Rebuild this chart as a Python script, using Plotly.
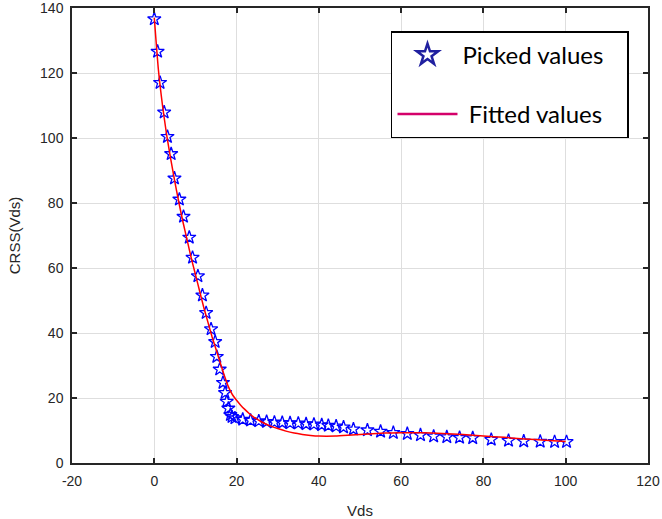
import plotly.graph_objects as go

# Picked values (stars)
picked_vds = [0.0, 0.8, 1.4, 2.4, 3.2, 4.1, 4.9, 6.1, 7.1, 8.5, 9.3, 10.6, 11.7, 12.6, 13.8,
              14.8, 15.2, 15.9, 16.7, 17.2, 17.6, 18.0, 18.5, 18.9,
              19.6, 21.5, 23.4, 25.4, 27.3, 29.2, 31.1, 33.0, 35.0, 36.9, 38.8, 40.7,
              42.3, 44.2, 46.0, 48.4, 51.8, 55.0, 58.1, 61.5, 64.7, 67.9, 71.1, 74.2,
              77.4, 81.9, 86.1, 89.8, 93.8, 97.3, 100.2]
picked_crss = [136.6, 126.6, 117.0, 107.9, 100.4, 95.1, 87.6, 81.1, 75.8, 69.4, 63.2, 57.5, 51.6, 46.2, 41.2,
               37.3, 32.7, 28.8, 24.7, 21.6, 18.9, 16.8, 14.8, 14.2,
               13.8, 13.4, 13.1, 12.9, 12.7, 12.5, 12.4, 12.3, 12.2, 12.0, 11.9, 11.7,
               11.5, 11.3, 11.0, 10.4, 10.1, 9.7, 9.3, 9.0, 8.6, 8.2, 8.0, 7.8,
               7.7, 7.2, 6.9, 6.7, 6.6, 6.5, 6.5]

# Fitted values (red curve)
fit_vds = [0, 1, 2, 3, 4, 5, 6, 7, 8, 9, 10, 11, 12, 13, 14, 15, 16, 17, 18, 19, 20,
           21, 22, 23, 24, 26, 28, 30, 32, 34, 36, 38, 40, 44, 48, 52, 56, 60, 65, 70,
           75, 80, 85, 90, 95, 100]
fit_crss = [137, 121, 110, 101, 93.5, 86.5, 80, 74, 68.5, 63, 58, 53, 48, 43.5, 39, 35, 31, 27,
            23.5, 21, 19.3, 17.8, 16.5, 15.3, 14.3, 12.7, 11.5, 10.6, 9.8, 9.2, 8.8, 8.5, 8.3,
            8.3, 8.6, 8.9, 9.2, 9.3, 9.3, 9.1, 8.8, 8.3, 7.9, 7.4, 7.0, 6.6]

x_ticks = [-20, 0, 20, 40, 60, 80, 100, 120]
y_ticks = [0, 20, 40, 60, 80, 100, 120, 140]

fig = go.Figure()
fig.add_trace(go.Scatter(x=picked_vds, y=picked_crss, mode="markers",
                         marker=dict(symbol="star-open", size=10, color="#0000ff",
                                     line=dict(width=1.3, color="#0000ff")),
                         showlegend=False))
fig.add_trace(go.Scatter(x=fit_vds, y=fit_crss, mode="lines",
                         line=dict(color="#ff0000", width=1.5, shape="spline", smoothing=0.5),
                         showlegend=False))
# legend entries
fig.add_trace(go.Scatter(x=[None], y=[None], mode="markers", name="Picked values\u00a0\u00a0\u00a0",
                         legendgroup="a",
                         marker=dict(symbol="star-open", size=16, color="#2020a0",
                                     line=dict(width=2.5, color="#2020a0"))))
fig.add_trace(go.Scatter(x=[None], y=[None], mode="lines", name="\u00a0Fitted values\u00a0\u00a0\u00a0",
                         legendgroup="b",
                         line=dict(color="#d4006a", width=2.5)))

axis_common = dict(showline=True, linecolor="#262626", linewidth=1.5, mirror="ticks",
                   ticks="inside", ticklen=5, tickwidth=1.5, tickcolor="#262626",
                   showgrid=True, gridcolor="#dedede", gridwidth=1, zeroline=False,
                   automargin=False, ticklabeloverflow="allow", ticklabelstandoff=4,
                   tickfont=dict(family="Liberation Sans", size=14, color="#262626"))

fig.update_xaxes(range=[-20, 120], tickvals=x_ticks, ticktext=[str(v) for v in x_ticks],
                 title=dict(text="Vds", font=dict(family="Liberation Sans", size=15, color="#262626"),
                            standoff=20),
                 **axis_common)
fig.update_yaxes(range=[0, 140], tickvals=y_ticks, ticktext=[str(v) for v in y_ticks],
                 title=dict(text="CRSS(Vds)", font=dict(family="Liberation Sans", size=15, color="#262626"),
                            standoff=16),
                 **axis_common)

fig.update_layout(
    width=662, height=519,
    margin=dict(l=72, r=14, t=8, b=56),
    plot_bgcolor="white", paper_bgcolor="white",
    legend=dict(x=0.967, y=0.949, xanchor="right", yanchor="top",
                bordercolor="#000000", borderwidth=1.5, bgcolor="white",
                font=dict(family="Lato", size=24, color="#000000"),
                itemwidth=60, tracegroupgap=25),
)

fig.write_html("out.html", config={"displayModeBar": False},
               post_script="document.body.style.margin='0px';")
